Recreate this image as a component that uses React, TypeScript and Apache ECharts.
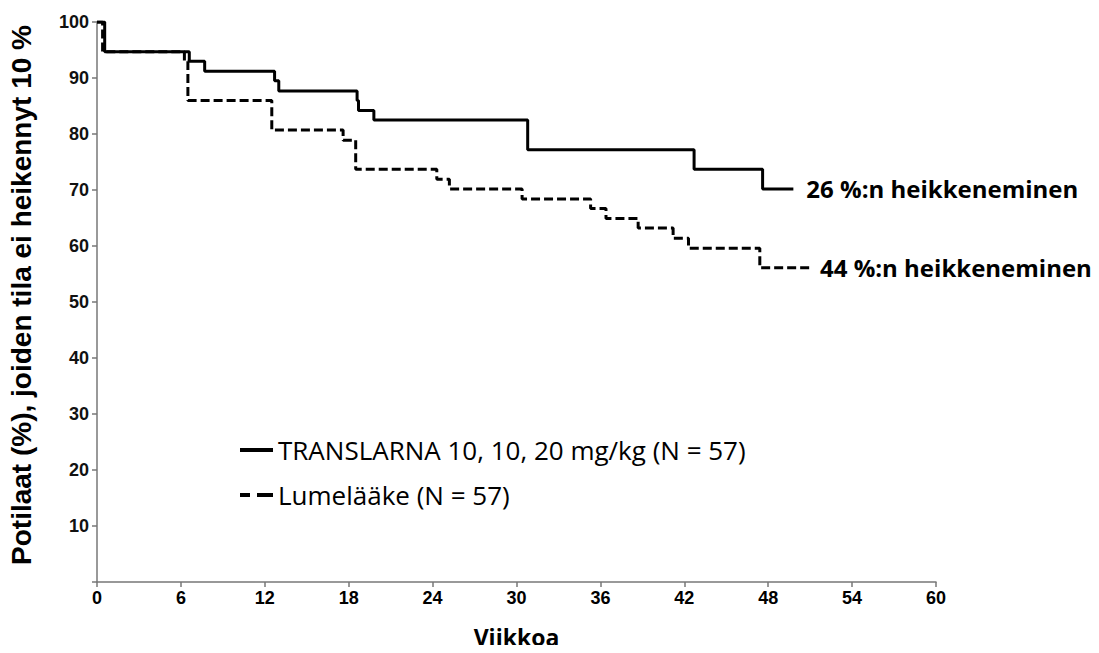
import React, { useEffect, useRef } from "react";
import * as echarts from "echarts";

const weeksTranslarna = [0, 0.55, 6.6, 7.7, 12.7, 13.0, 18.6, 18.7, 19.8, 30.8, 42.7, 47.6, 49.8];
const pctTranslarna = [100, 94.7, 93.0, 91.2, 89.5, 87.7, 86.0, 84.2, 82.5, 77.2, 73.7, 70.2, 70.2];
const weeksPlacebo = [0, 0.4, 6.25, 6.5, 12.5, 17.6, 18.5, 24.3, 25.2, 30.4, 35.3, 36.4, 38.7, 41.2, 42.3, 47.4, 51.2];
const pctPlacebo = [100, 94.7, 93.0, 86.0, 80.7, 78.9, 73.7, 71.9, 70.2, 68.4, 66.7, 64.9, 63.2, 61.4, 59.6, 56.1, 56.1];

const seriesNames = ["TRANSLARNA 10, 10, 20 mg/kg (N = 57)", "Lumelääke (N = 57)"];
const endLabels = ["26 %:n heikkeneminen", "44 %:n heikkeneminen"];
const xTitle = "Viikkoa";
const yTitle = "Potilaat (%), joiden tila ei heikennyt 10 %";

export default function App() {
  const ref = useRef<HTMLDivElement>(null);
  useEffect(() => {
    if (!ref.current) return;
    const chart = echarts.init(ref.current, undefined, { renderer: "svg" });
    const pair = (xs: number[], ys: number[]) => xs.map((x, i) => [x, ys[i]]);
    chart.setOption({
      animation: false,
      backgroundColor: "#fff",
      grid: { left: 97, right: 163, top: 22, bottom: 71, containLabel: false, outerBoundsMode: "none" },
      xAxis: {
        type: "value",
        min: 0,
        max: 60,
        interval: 6,
        name: xTitle,
        nameLocation: "middle",
        nameGap: 43,
        nameTextStyle: { fontFamily: "Open Sans", fontWeight: "bold", fontSize: 23, color: "#000" },
        axisLine: { show: true, lineStyle: { color: "#777", width: 1.5 } },
        axisTick: { show: true, length: 5, lineStyle: { color: "#777", width: 1.5 } },
        axisLabel: {
          margin: 7,
          fontFamily: "Liberation Sans",
          fontWeight: "bold",
          fontSize: 18,
          color: "#000",
        },
        splitLine: { show: false },
      },
      yAxis: {
        type: "value",
        min: 0,
        max: 100,
        interval: 10,
        name: yTitle,
        nameLocation: "middle",
        nameGap: 62,
        nameRotate: 90,
        nameTextStyle: {
          fontFamily: "Liberation Sans",
          fontWeight: "bold",
          fontSize: 28,
          color: "#000",
          padding: [0, 0, 0, 14],
        },
        axisLine: { show: true, lineStyle: { color: "#777", width: 1.5 } },
        axisTick: { show: true, length: 5, lineStyle: { color: "#777", width: 1.5 } },
        axisLabel: {
          margin: 8,
          fontFamily: "Liberation Sans",
          fontWeight: "bold",
          fontSize: 18,
          color: "#111",
          formatter: (v: number) => (v === 0 ? "" : String(v)),
        },
        splitLine: { show: false },
      },
      legend: {
        orient: "vertical",
        left: 235,
        top: 430,
        itemWidth: 33,
        itemHeight: 4,
        itemGap: 15,
        symbolKeepAspect: false,
        textStyle: { fontFamily: "Open Sans", fontSize: 26, color: "#000", lineHeight: 30 },
        data: [
          { name: seriesNames[0], icon: "path://M0,0H33V4H0Z" },
          { name: seriesNames[1], icon: "path://M0,0H10V4H0ZM17,0H33V4H17Z" },
        ],
      },
      series: [
        {
          name: seriesNames[0],
          type: "line",
          step: "end",
          symbol: "none",
          color: "#000",
          lineStyle: { color: "#000", width: 3, type: "solid" },
          data: pair(weeksTranslarna, pctTranslarna),
          endLabel: {
            show: true,
            formatter: endLabels[0],
            distance: 13,
            fontFamily: "Open Sans",
            fontWeight: "bold",
            fontSize: 24,
            color: "#000",
          },
        },
        {
          name: seriesNames[1],
          type: "line",
          step: "end",
          symbol: "none",
          color: "#000",
          lineStyle: { color: "#000", width: 3, type: [9, 4] },
          data: pair(weeksPlacebo, pctPlacebo),
          endLabel: {
            show: true,
            formatter: endLabels[1],
            distance: 7,
            fontFamily: "Open Sans",
            fontWeight: "bold",
            fontSize: 24,
            color: "#000",
          },
        },
      ],
    });
    return () => chart.dispose();
  }, []);
  return <div ref={ref} style={{ width: 1099, height: 653, margin: -8 }} />;
}
